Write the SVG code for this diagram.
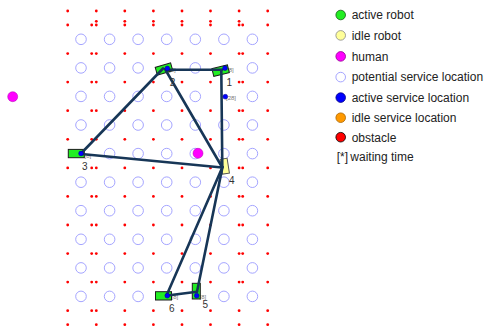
<svg xmlns="http://www.w3.org/2000/svg" width="489" height="329" viewBox="0 0 489 329">
<style>
  text { font-family: "Liberation Sans", Arial, sans-serif; }
  .ob { fill: #ff0000; }
  .loc { fill: none; stroke: #9b9bff; stroke-width: 0.9; }
  .human { fill: #ff00ff; stroke: #b000b0; stroke-width: 0.5; }
  .robot { fill: #22ee22; stroke: #1c1c1c; stroke-width: 1; }
  .idle { fill: #ffff99; stroke: #555555; stroke-width: 1; }
  .act { fill: #0000ff; stroke: #000080; stroke-width: 0.5; }
  .wait { font-size: 6px; fill: #777777; }
  .lbl { font-size: 10px; fill: #333333; text-anchor: middle; }
  .route { fill: none; stroke: #173657; stroke-width: 2.6; stroke-linecap: round; }
  .leg { font-size: 12px; fill: #222222; }
</style>
<defs>
  <circle id="o" class="ob" r="1.4"/>
  <circle id="l" class="loc" r="5.3"/>
  <!-- obstacle rows -->
  <g id="obRowFull">
    <use href="#o" x="67.7"/><use href="#o" x="91.7"/><use href="#o" x="96.3"/><use href="#o" x="124.8"/>
    <use href="#o" x="153.4"/><use href="#o" x="182"/><use href="#o" x="210.5"/><use href="#o" x="239.1"/>
    <use href="#o" x="242.7"/><use href="#o" x="267.7"/>
  </g>
  <g id="obRowShort">
    <use href="#o" x="67.7"/><use href="#o" x="91.7"/><use href="#o" x="96.3"/><use href="#o" x="124.8"/>
    <use href="#o" x="153.4"/><use href="#o" x="182"/><use href="#o" x="210.5"/><use href="#o" x="239.1"/>
    <use href="#o" x="267.7"/>
  </g>
  <g id="obRowEdge">
    <use href="#o" x="67.7"/><use href="#o" x="96.3"/><use href="#o" x="124.8"/><use href="#o" x="153.4"/>
    <use href="#o" x="182"/><use href="#o" x="210.5"/><use href="#o" x="239.1"/><use href="#o" x="267.7"/>
  </g>
  <g id="obRowInner">
    <use href="#o" x="96.3"/><use href="#o" x="124.8"/><use href="#o" x="153.4"/>
    <use href="#o" x="182"/><use href="#o" x="210.5"/><use href="#o" x="239.1"/>
  </g>
  <!-- service location row -->
  <g id="locRow">
    <use href="#l" x="81"/><use href="#l" x="109.6"/><use href="#l" x="138.1"/><use href="#l" x="166.7"/>
    <use href="#l" x="195.3"/><use href="#l" x="223.9"/><use href="#l" x="252.4"/>
  </g>
</defs>

<rect width="489" height="329" fill="#ffffff"/>

<!-- obstacles -->
<g id="obstacles">
  <use href="#obRowEdge" y="11"/>
  <use href="#obRowInner" y="21.3"/>
  <use href="#obRowFull" y="25"/>
  <use href="#obRowFull" y="53.6"/>
  <use href="#obRowFull" y="82.1"/>
  <use href="#obRowFull" y="110.7"/>
  <use href="#obRowFull" y="139.3"/>
  <use href="#obRowFull" y="167.9"/>
  <use href="#obRowFull" y="196.4"/>
  <use href="#obRowFull" y="225"/>
  <use href="#obRowFull" y="253.6"/>
  <use href="#obRowFull" y="282.1"/>
  <use href="#obRowShort" y="310.7"/>
  <use href="#obRowEdge" y="324.7"/>
</g>

<!-- potential service locations -->
<g id="locations">
  <use href="#locRow" y="39.3"/>
  <use href="#l" x="81" y="67.9"/><use href="#l" x="109.6" y="67.9"/><use href="#l" x="138.1" y="67.9"/>
  <use href="#l" x="195.3" y="67.9"/><use href="#l" x="252.4" y="67.9"/>
  <use href="#l" x="81" y="96.4"/><use href="#l" x="109.6" y="96.4"/><use href="#l" x="138.1" y="96.4"/>
  <use href="#l" x="166.7" y="96.4"/><use href="#l" x="195.3" y="96.4"/><use href="#l" x="252.4" y="96.4"/>
  <use href="#locRow" y="125"/>
  <use href="#l" x="109.6" y="153.6"/><use href="#l" x="138.1" y="153.6"/><use href="#l" x="166.7" y="153.6"/>
  <use href="#l" x="195.3" y="153.6"/><use href="#l" x="223.9" y="153.6"/><use href="#l" x="252.4" y="153.6"/>
  <use href="#locRow" y="182.2"/>
  <use href="#locRow" y="210.7"/>
  <use href="#locRow" y="239.3"/>
  <use href="#locRow" y="267.9"/>
  <use href="#l" x="81" y="296.4"/><use href="#l" x="109.6" y="296.4"/><use href="#l" x="138.1" y="296.4"/>
  <use href="#l" x="223.9" y="296.4"/><use href="#l" x="252.4" y="296.4"/>
</g>

<!-- humans -->
<g id="human-a"><circle class="human" cx="12.7" cy="96.7" r="5"/></g>
<g id="human-b"><circle class="human" cx="198" cy="153.3" r="5"/></g>

<!-- waiting times -->
<g id="waits">
  <text class="wait" x="227" y="71.5">[8]</text>
  <text class="wait" x="169" y="71.7">[8]</text>
  <text class="wait" x="84.5" y="157.5">[8]</text>
  <text class="wait" x="171.5" y="299.3">[8]</text>
  <text class="wait" x="199.5" y="299">[8]</text>
  <text class="wait" x="226" y="100.3">[28]</text>
</g>

<!-- robots -->
<g id="robot-1"><rect class="robot" x="-8" y="-4" width="16" height="8" transform="translate(220.6 70.6) rotate(-14)"/></g>
<g id="robot-2"><rect class="robot" x="-8" y="-4" width="16" height="8" transform="translate(164 69) rotate(-16)"/></g>
<g id="robot-3"><rect class="robot" x="68.3" y="149.4" width="16" height="8.3"/></g>
<g id="robot-4"><rect class="idle" x="-3.5" y="-7.5" width="7" height="15" transform="translate(224.8 166.2) rotate(-9)"/></g>
<g id="robot-5"><rect class="robot" x="192.3" y="283.3" width="8" height="15.7"/></g>
<g id="robot-6"><rect class="robot" x="155.5" y="291.7" width="16" height="8.3"/></g>

<!-- routes -->
<g id="connectors">
  <line class="route" x1="81" y1="153.5" x2="163" y2="68.5"/>
  <line class="route" x1="166" y1="69.8" x2="222" y2="69.8"/>
  <line class="route" x1="221.3" y1="70" x2="222.3" y2="167"/>
  <line class="route" x1="165" y1="69" x2="222" y2="167"/>
  <line class="route" x1="81.5" y1="154" x2="222" y2="167.5"/>
  <line class="route" x1="222.5" y1="167" x2="166.5" y2="295.5"/>
  <line class="route" x1="222.5" y1="167" x2="197" y2="291.7"/>
  <line class="route" x1="197" y1="291.7" x2="167.3" y2="295.5"/>
</g>

<!-- active service locations -->
<g id="active">
  <circle class="act" cx="225" cy="68.2" r="2.4"/>
  <circle class="act" cx="167.3" cy="68.4" r="2.4"/>
  <circle class="act" cx="225.3" cy="96.7" r="2.4"/>
  <circle class="act" cx="81" cy="153.5" r="2.4"/>
  <circle class="act" cx="167.3" cy="295.7" r="2.4"/>
  <circle class="act" cx="196.7" cy="295.7" r="2.4"/>
</g>

<!-- robot numbers -->
<g id="labels">
  <text class="lbl" x="229.3" y="85.7">1</text>
  <text class="lbl" x="172.5" y="85.7">2</text>
  <text class="lbl" x="84.7" y="170.3">3</text>
  <text class="lbl" x="231.7" y="183.6">4</text>
  <text class="lbl" x="205.3" y="307.9">5</text>
  <text class="lbl" x="171.7" y="311.9">6</text>
</g>

<!-- legend -->
<g id="legend">
  <circle cx="340.7" cy="15" r="4.8" fill="#22ee22" stroke="#1a5a1a" stroke-width="0.8"/>
  <text class="leg" x="351.7" y="19.3">active robot</text>
  <circle cx="340.7" cy="35.4" r="4.8" fill="#ffff99" stroke="#888888" stroke-width="0.8"/>
  <text class="leg" x="351.7" y="39.7">idle robot</text>
  <circle cx="340.7" cy="56.4" r="4.8" fill="#ff00ff" stroke="#900090" stroke-width="0.8"/>
  <text class="leg" x="351.7" y="60.7">human</text>
  <circle cx="340.7" cy="77.1" r="4.8" fill="#ffffff" stroke="#9b9bff" stroke-width="0.9"/>
  <text class="leg" x="351.7" y="81.4">potential service location</text>
  <circle cx="340.7" cy="97.6" r="4.8" fill="#0000ff" stroke="#000080" stroke-width="0.8"/>
  <text class="leg" x="351.7" y="101.9">active service location</text>
  <circle cx="340.7" cy="117.7" r="4.8" fill="#ff9900" stroke="#aa6600" stroke-width="0.8"/>
  <text class="leg" x="351.7" y="122">idle service location</text>
  <circle cx="340.7" cy="137.2" r="4.8" fill="#ff0000" stroke="#000000" stroke-width="0.8"/>
  <text class="leg" x="351.7" y="141.5">obstacle</text>
  <text class="leg" x="336.7" y="161.3">[*]</text>
  <text class="leg" x="350.3" y="161.3">waiting time</text>
</g>
</svg>
